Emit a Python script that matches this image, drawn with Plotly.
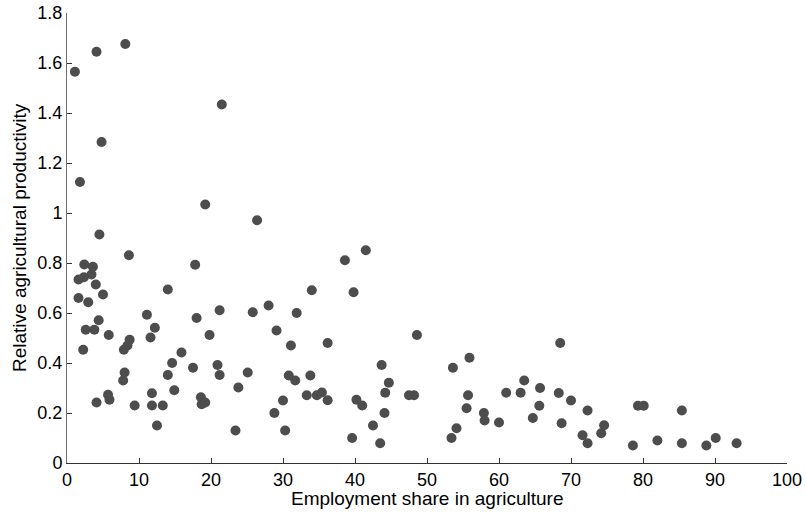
import plotly.graph_objects as go

emp_share = [
    1.1, 4.1, 8.1, 21.5, 4.8, 1.8, 19.2, 26.4,
    4.5, 8.6, 2.4, 3.6, 17.8, 3.4, 2.35, 1.6, 4.0, 5.0, 14.0, 1.6, 2.95,
    11.1, 21.2, 25.8, 4.4, 18.0, 12.2, 2.6, 3.8, 5.8, 11.6, 19.8,
    8.7, 8.4, 7.9, 2.25, 15.9, 14.6, 20.9, 17.5, 8.0, 14.0, 21.2, 25.1,
    7.8, 14.9, 23.8, 11.8, 5.7, 5.9, 18.6, 19.2, 18.7, 4.1, 9.4, 11.8,
    13.3, 12.5, 23.4,
    38.6, 41.5, 34.0, 39.8, 28.0, 31.9, 29.1, 31.1, 36.2, 48.6, 43.7,
    30.8, 31.7, 33.8, 44.7, 33.3, 34.7, 35.4, 36.2, 44.2, 47.5, 48.2,
    30.0, 28.8, 40.2, 41.0, 44.1, 30.3, 42.5, 39.6, 43.5,
    53.6, 55.9, 55.7, 55.5, 57.9, 58.0, 60.0, 61.0, 63.0, 54.1, 53.4,
    68.5, 63.5, 65.7, 68.3, 70.0, 65.6, 64.7, 68.7, 72.3, 71.6, 72.3,
    74.2, 74.6, 79.3, 80.1, 85.4, 78.6, 82.0, 85.4, 88.8, 90.1, 93.0,
]

rel_productivity = [
    1.565, 1.645, 1.676, 1.434, 1.284, 1.124, 1.034, 0.971,
    0.914, 0.831, 0.794, 0.785, 0.793, 0.754, 0.743, 0.734, 0.714, 0.674, 0.694, 0.660, 0.643,
    0.593, 0.611, 0.603, 0.571, 0.580, 0.541, 0.533, 0.533, 0.512, 0.502, 0.512,
    0.493, 0.470, 0.453, 0.453, 0.442, 0.400, 0.392, 0.381, 0.362, 0.352, 0.352, 0.362,
    0.330, 0.291, 0.302, 0.279, 0.273, 0.253, 0.263, 0.242, 0.235, 0.242, 0.230, 0.230,
    0.230, 0.150, 0.130,
    0.811, 0.851, 0.691, 0.683, 0.630, 0.600, 0.530, 0.470, 0.480, 0.512, 0.392,
    0.350, 0.330, 0.350, 0.321, 0.271, 0.271, 0.282, 0.251, 0.281, 0.271, 0.271,
    0.250, 0.200, 0.253, 0.230, 0.200, 0.130, 0.150, 0.100, 0.079,
    0.381, 0.421, 0.271, 0.219, 0.200, 0.170, 0.162, 0.281, 0.281, 0.139, 0.100,
    0.480, 0.330, 0.300, 0.280, 0.250, 0.229, 0.180, 0.159, 0.210, 0.111, 0.079,
    0.119, 0.151, 0.229, 0.229, 0.210, 0.070, 0.090, 0.079, 0.070, 0.100, 0.079,
]

x_ticks = [0, 10, 20, 30, 40, 50, 60, 70, 80, 90, 100]
y_ticks = [0, 0.2, 0.4, 0.6, 0.8, 1.0, 1.2, 1.4, 1.6, 1.8]
y_tick_labels = ["0", "0.2", "0.4", "0.6", "0.8", "1", "1.2", "1.4", "1.6", "1.8"]

x_title = "Employment share in agriculture"
y_title = "Relative agricultural productivity"

fnt = "Liberation Sans, Arial, sans-serif"

fig = go.Figure(
    go.Scatter(
        x=emp_share,
        y=rel_productivity,
        mode="markers",
        marker=dict(size=10, color="#4d4d4d", line=dict(width=0)),
        hoverinfo="x+y",
    )
)

fig.update_layout(
    width=806,
    height=512,
    margin=dict(l=67, r=19, t=13, b=49),
    paper_bgcolor="white",
    plot_bgcolor="white",
    showlegend=False,
    font=dict(family=fnt, size=18, color="#000000"),
    annotations=[
        dict(text=x_title, xref="paper", yref="paper", x=0.5, y=0,
             xanchor="center", yanchor="middle", yshift=-35, showarrow=False,
             font=dict(family=fnt, size=19, color="#000000")),
        dict(text=y_title, xref="paper", yref="paper", x=0, y=0.5,
             xanchor="center", yanchor="middle", xshift=-48, textangle=-90,
             showarrow=False, font=dict(family=fnt, size=19, color="#000000")),
    ],
)

common = dict(
    ticks="inside",
    ticklen=5,
    tickcolor="#333333",
    showline=True,
    linewidth=1,
    showgrid=False,
    zeroline=False,
    automargin=False,
    ticklabeloverflow="allow",
    tickfont=dict(family=fnt, size=18, color="#000000"),
)

fig.update_xaxes(range=[0, 100], tickvals=x_ticks, linecolor="#333333", **common)
fig.update_yaxes(range=[0, 1.8], tickvals=y_ticks, ticktext=y_tick_labels,
                 linecolor="#6e6e6e", **common)

fig.write_html(
    "out.html",
    config={"displayModeBar": False},
    post_script="document.body.style.margin='0px';",
)
